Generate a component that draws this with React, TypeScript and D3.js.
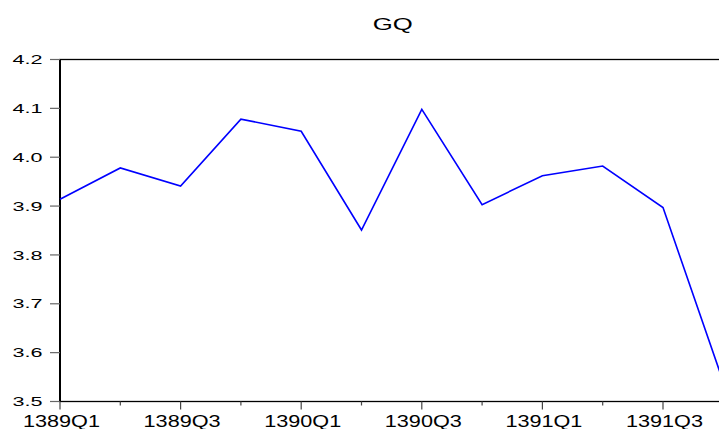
import React, { useRef, useEffect } from "react";
import * as d3 from "d3";

const title = "GQ";
const quarters = [
  "1389Q1", "1389Q2", "1389Q3", "1389Q4",
  "1390Q1", "1390Q2", "1390Q3", "1390Q4",
  "1391Q1", "1391Q2", "1391Q3", "1391Q4",
];
const gq = [3.914, 3.978, 3.941, 4.078, 4.053, 3.851, 4.098, 3.903, 3.962, 3.982, 3.897, 3.54];
const yTicks = [3.5, 3.6, 3.7, 3.8, 3.9, 4.0, 4.1, 4.2];

const App = () => {
  const svgRef = useRef<SVGSVGElement>(null);

  useEffect(() => {
    const width = 719;
    const height = 429;
    const left = 60;
    const right = 723.3;
    const top = 59.5;
    const bottom = 401.5;

    const svg = d3.select(svgRef.current);
    svg.attr("width", width).attr("height", height);
    svg.selectAll("*").remove(); // Clear previous render

    const x = d3.scalePoint<string>().domain(quarters).range([left, right]);
    const y = d3.scaleLinear().domain([3.5, 4.2]).range([bottom, top]);

    const font = "Liberation Sans, Arial, sans-serif";

    // frame
    svg
      .append("rect")
      .attr("x", left)
      .attr("y", top)
      .attr("width", right - left + 20)
      .attr("height", bottom - top)
      .attr("fill", "none")
      .attr("stroke", "#000")
      .attr("stroke-width", 1.3);
    svg
      .append("line")
      .attr("x1", left)
      .attr("x2", left)
      .attr("y1", top)
      .attr("y2", bottom)
      .attr("stroke", "#000")
      .attr("stroke-width", 2);

    // y ticks + labels
    const yg = svg.append("g");
    yg.selectAll("line")
      .data(yTicks)
      .enter()
      .append("line")
      .attr("x1", left - 10)
      .attr("x2", left)
      .attr("y1", (d) => y(d))
      .attr("y2", (d) => y(d))
      .attr("stroke", "#666")
      .attr("stroke-width", 1.2);
    yg.selectAll("text")
      .data(yTicks)
      .enter()
      .append("text")
      .attr("x", 42.5)
      .attr("y", (d) => y(d) + 4.6)
      .attr("text-anchor", "end")
      .attr("font-family", font)
      .attr("font-size", 12.8)
      .attr("textLength", 30)
      .attr("lengthAdjust", "spacingAndGlyphs")
      .attr("fill", "#000")
      .text((d) => d.toFixed(1));

    // x ticks + labels
    const xg = svg.append("g");
    xg.selectAll("line")
      .data(quarters)
      .enter()
      .append("line")
      .attr("x1", (d) => x(d)!)
      .attr("x2", (d) => x(d)!)
      .attr("y1", bottom)
      .attr("y2", (d, i) => bottom + (i % 2 === 0 ? 8 : 4))
      .attr("stroke", "#444")
      .attr("stroke-width", 1.2);
    xg.selectAll("text")
      .data(quarters.filter((d, i) => i % 2 === 0))
      .enter()
      .append("text")
      .attr("x", (d) => x(d)! + 1.5)
      .attr("y", 426.7)
      .attr("text-anchor", "middle")
      .attr("font-family", font)
      .attr("font-size", 16.3)
      .attr("textLength", 77)
      .attr("lengthAdjust", "spacingAndGlyphs")
      .attr("fill", "#000")
      .text((d) => d);

    // series
    const line = d3
      .line<number>()
      .x((d, i) => x(quarters[i])!)
      .y((d) => y(d));
    svg
      .append("path")
      .datum(gq)
      .attr("d", line)
      .attr("fill", "none")
      .attr("stroke", "#0000ff")
      .attr("stroke-width", 1.6);

    // title
    svg
      .append("text")
      .attr("x", 392.8)
      .attr("y", 30)
      .attr("text-anchor", "middle")
      .attr("font-family", font)
      .attr("font-size", 16.8)
      .attr("textLength", 40)
      .attr("lengthAdjust", "spacingAndGlyphs")
      .attr("fill", "#000")
      .text(title);
  }, []);

  return (
    <svg
      ref={svgRef}
      style={{ position: "absolute", left: 0, top: 0, display: "block", background: "#fff" }}
    />
  );
};

export default App;
